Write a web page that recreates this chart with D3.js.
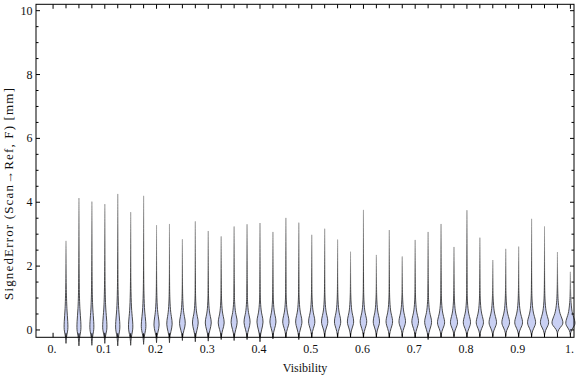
<!DOCTYPE html>
<html>
<head>
<meta charset="utf-8">
<script src="https://cdn.jsdelivr.net/npm/d3@7"></script>
<style>
  body { margin: 0; background: #fff; }
  text { font-family: "Liberation Serif", "Times New Roman", serif; fill: #111; }
</style>
</head>
<body>
<div id="chart"></div>
<script>
// visibility bins (one violin per bin)
var visibility = [0.025, 0.05, 0.075, 0.1, 0.125, 0.15, 0.175, 0.2, 0.225, 0.25,
                  0.275, 0.3, 0.325, 0.35, 0.375, 0.4, 0.425, 0.45, 0.475, 0.5,
                  0.525, 0.55, 0.575, 0.6, 0.625, 0.65, 0.675, 0.7, 0.725, 0.75,
                  0.775, 0.8, 0.825, 0.85, 0.875, 0.9, 0.925, 0.95, 0.975, 1.0];

// largest signed error in each bin [mm]
var maxError = [2.79, 4.13, 4.02, 3.94, 4.26, 3.69, 4.20, 3.28, 3.32, 2.84,
                3.40, 3.10, 2.93, 3.24, 3.31, 3.35, 3.07, 3.51, 3.36, 2.98,
                3.17, 2.83, 2.45, 3.76, 2.35, 3.13, 2.30, 2.82, 3.07, 3.32,
                2.60, 3.75, 2.89, 2.19, 2.54, 2.61, 3.48, 3.24, 2.44, 1.82];

// smallest signed error in each bin [mm]
var minError = [-0.42, -0.50, -0.48, -0.42, -0.50, -0.48, -0.45, -0.40, -0.40, -0.33,
                -0.37, -0.35, -0.30, -0.33, -0.30, -0.37, -0.28, -0.25, -0.30, -0.25,
                -0.22, -0.25, -0.22, -0.25, -0.22, -0.25, -0.20, -0.25, -0.30, -0.22,
                -0.20, -0.22, -0.20, -0.20, -0.18, -0.20, -0.20, -0.18, -0.12, -0.15];

// most frequent error (mode of the density) [mm]
var modeError = [0.06, 0.06, 0.07, 0.07, 0.08, 0.08, 0.10, 0.15, 0.18, 0.20,
                 0.22, 0.22, 0.22, 0.24, 0.24, 0.25, 0.25, 0.25, 0.25, 0.25,
                 0.25, 0.25, 0.25, 0.25, 0.25, 0.25, 0.25, 0.25, 0.24, 0.22,
                 0.22, 0.22, 0.22, 0.22, 0.22, 0.22, 0.22, 0.22, 0.21, 0.20];

// relative density at the mode
var peakDensity = [0.33, 0.35, 0.35, 0.37, 0.37, 0.38, 0.40, 0.45, 0.47, 0.50,
                   0.50, 0.52, 0.52, 0.53, 0.53, 0.53, 0.53, 0.55, 0.55, 0.55,
                   0.55, 0.55, 0.55, 0.57, 0.55, 0.57, 0.57, 0.58, 0.60, 0.62,
                   0.62, 0.63, 0.63, 0.65, 0.67, 0.68, 0.70, 0.72, 0.95, 0.80];

// how slowly the density falls off above the mode
var upperSpread = [2.0, 2.0, 1.9, 1.9, 1.8, 1.7, 1.6, 1.3, 1.2, 1.1,
                   1.0, 1.0, 1.0, 1.0, 1.0, 1.0, 1.0, 1.0, 1.0, 1.0,
                   1.0, 1.0, 1.0, 1.0, 1.0, 1.0, 1.0, 1.0, 1.0, 1.0,
                   1.0, 1.0, 1.0, 1.0, 1.0, 1.0, 1.0, 1.0, 1.0, 1.0];

// common violin outline: above the mode (offset in mm, relative width)
var upperOffsets = [0, 0.1, 0.2, 0.3, 0.45, 0.65, 0.9, 1.3, 1.8];
var upperWidths  = [1, 0.9, 0.68, 0.45, 0.27, 0.14, 0.06, 0.025, 0.01];
// below the mode (fraction of way down to the minimum, relative width)
var lowerFractions = [0, 0.2, 0.4, 0.6, 0.8, 1];
var lowerWidths    = [1, 0.82, 0.5, 0.22, 0.07, 0];

var xTicks = [0, 0.1, 0.2, 0.3, 0.4, 0.5, 0.6, 0.7, 0.8, 0.9, 1.0];
var xTickLabels = ["0.", "0.1", "0.2", "0.3", "0.4", "0.5", "0.6", "0.7", "0.8", "0.9", "1."];
var yTicks = [0, 2, 4, 6, 8, 10];

var width = 576, height = 377;
var frameLeft = 36, frameRight = 574, frameTop = 4.3, frameBottom = 337.3;

var svg = d3.select("#chart")
    .append("svg")
        .attr("width", width)
        .attr("height", height)
        .attr("xmlns", "http://www.w3.org/2000/svg")

var x = d3.scaleLinear().domain([-0.033, 1.007]).range([frameLeft, frameRight]);
var y = d3.scaleLinear().domain([-0.23, 10.2]).range([frameBottom, frameTop]);
var w = d3.scaleLinear().domain([0, 1]).range([0, 6]);

var defs = svg.append("defs")
var grad = defs.append("linearGradient")
    .attr("id", "edge")
    .attr("x1", "0").attr("y1", "0")
    .attr("x2", "0").attr("y2", "1")
grad.append("stop").attr("offset", "0%").attr("stop-color", "#a8a8a8")
grad.append("stop").attr("offset", "55%").attr("stop-color", "#3a3a3a")
grad.append("stop").attr("offset", "100%").attr("stop-color", "#333")

function outline(i) {
    var pts = [];
    // bottom tip up to the mode
    for (var k = lowerFractions.length - 1; k >= 0; k--) {
        var v = modeError[i] - lowerFractions[k] * (modeError[i] - minError[i]);
        pts.push([v, lowerWidths[k] * peakDensity[i]]);
    }
    for (var k = 1; k < upperOffsets.length; k++) {
        var v = modeError[i] + upperOffsets[k] * upperSpread[i];
        if (v >= maxError[i]) break;
        pts.push([v, upperWidths[k] * peakDensity[i]]);
    }
    pts.push([maxError[i], 0]);
    return pts;
}

var area = d3.area()
    .curve(d3.curveBasis)
    .y(function(d) { return y(d[0]); })

var violins = svg.append("g").classed("violins", true)

visibility.forEach(function(v, i) {
    var cx = x(v);
    area.x0(function(d) { return cx - w(d[1]); })
        .x1(function(d) { return cx + w(d[1]); })
    violins.append("path")
        .attr("d", area(outline(i)))
        .attr("fill", "#c9d0f3")
        .attr("stroke", "url(#edge)")
        .attr("stroke-width", 0.9)
})

// frame with inward ticks
var frame = svg.append("g").classed("frame", true)
frame.append("rect")
    .attr("x", frameLeft).attr("y", frameTop)
    .attr("width", frameRight - frameLeft).attr("height", frameBottom - frameTop)
    .attr("fill", "none")
    .attr("stroke", "#000")
    .attr("stroke-width", 1)

var xMinor = d3.range(0, 41).map(function(k) { return k * 0.025; });
var yMinor = d3.range(0, 21).map(function(k) { return k * 0.5; });

xMinor.forEach(function(t, k) {
    var len = (k % 4 === 0) ? 4.5 : 4;
    frame.append("line")
        .attr("x1", x(t)).attr("x2", x(t))
        .attr("y1", frameBottom).attr("y2", frameBottom - len)
        .attr("stroke", "#000")
    frame.append("line")
        .attr("x1", x(t)).attr("x2", x(t))
        .attr("y1", frameTop).attr("y2", frameTop + len)
        .attr("stroke", "#000")
})

yMinor.forEach(function(t, k) {
    var len = (k % 4 === 0) ? 4 : 2.5;
    frame.append("line")
        .attr("y1", y(t)).attr("y2", y(t))
        .attr("x1", frameLeft).attr("x2", frameLeft + len)
        .attr("stroke", "#000")
    frame.append("line")
        .attr("y1", y(t)).attr("y2", y(t))
        .attr("x1", frameRight).attr("x2", frameRight - len)
        .attr("stroke", "#000")
})

svg.append("g").selectAll("text")
    .data(xTicks)
    .enter().append("text")
        .attr("x", function(d) { return x(d) - 1; })
        .attr("y", 352.5)
        .attr("text-anchor", "middle")
        .attr("font-size", 12)
        .text(function(d, i) { return xTickLabels[i]; })

svg.append("g").selectAll("text")
    .data(yTicks)
    .enter().append("text")
        .attr("x", 32.5)
        .attr("y", function(d) { return y(d) + 4; })
        .attr("text-anchor", "end")
        .attr("font-size", 12)
        .text(function(d) { return d; })

svg.append("text")
    .attr("x", (frameLeft + frameRight) / 2)
    .attr("y", 372)
    .attr("text-anchor", "middle")
    .attr("font-size", 12)
    .text("Visibility")

svg.append("text")
    .attr("transform", "translate(12.5, 194) rotate(-90)")
    .attr("text-anchor", "middle")
    .attr("font-size", 13)
    .attr("textLength", 212)
    .attr("lengthAdjust", "spacing")
    .text("SignedError (Scan\u2192Ref, F) [mm]")
</script>
</body>
</html>
